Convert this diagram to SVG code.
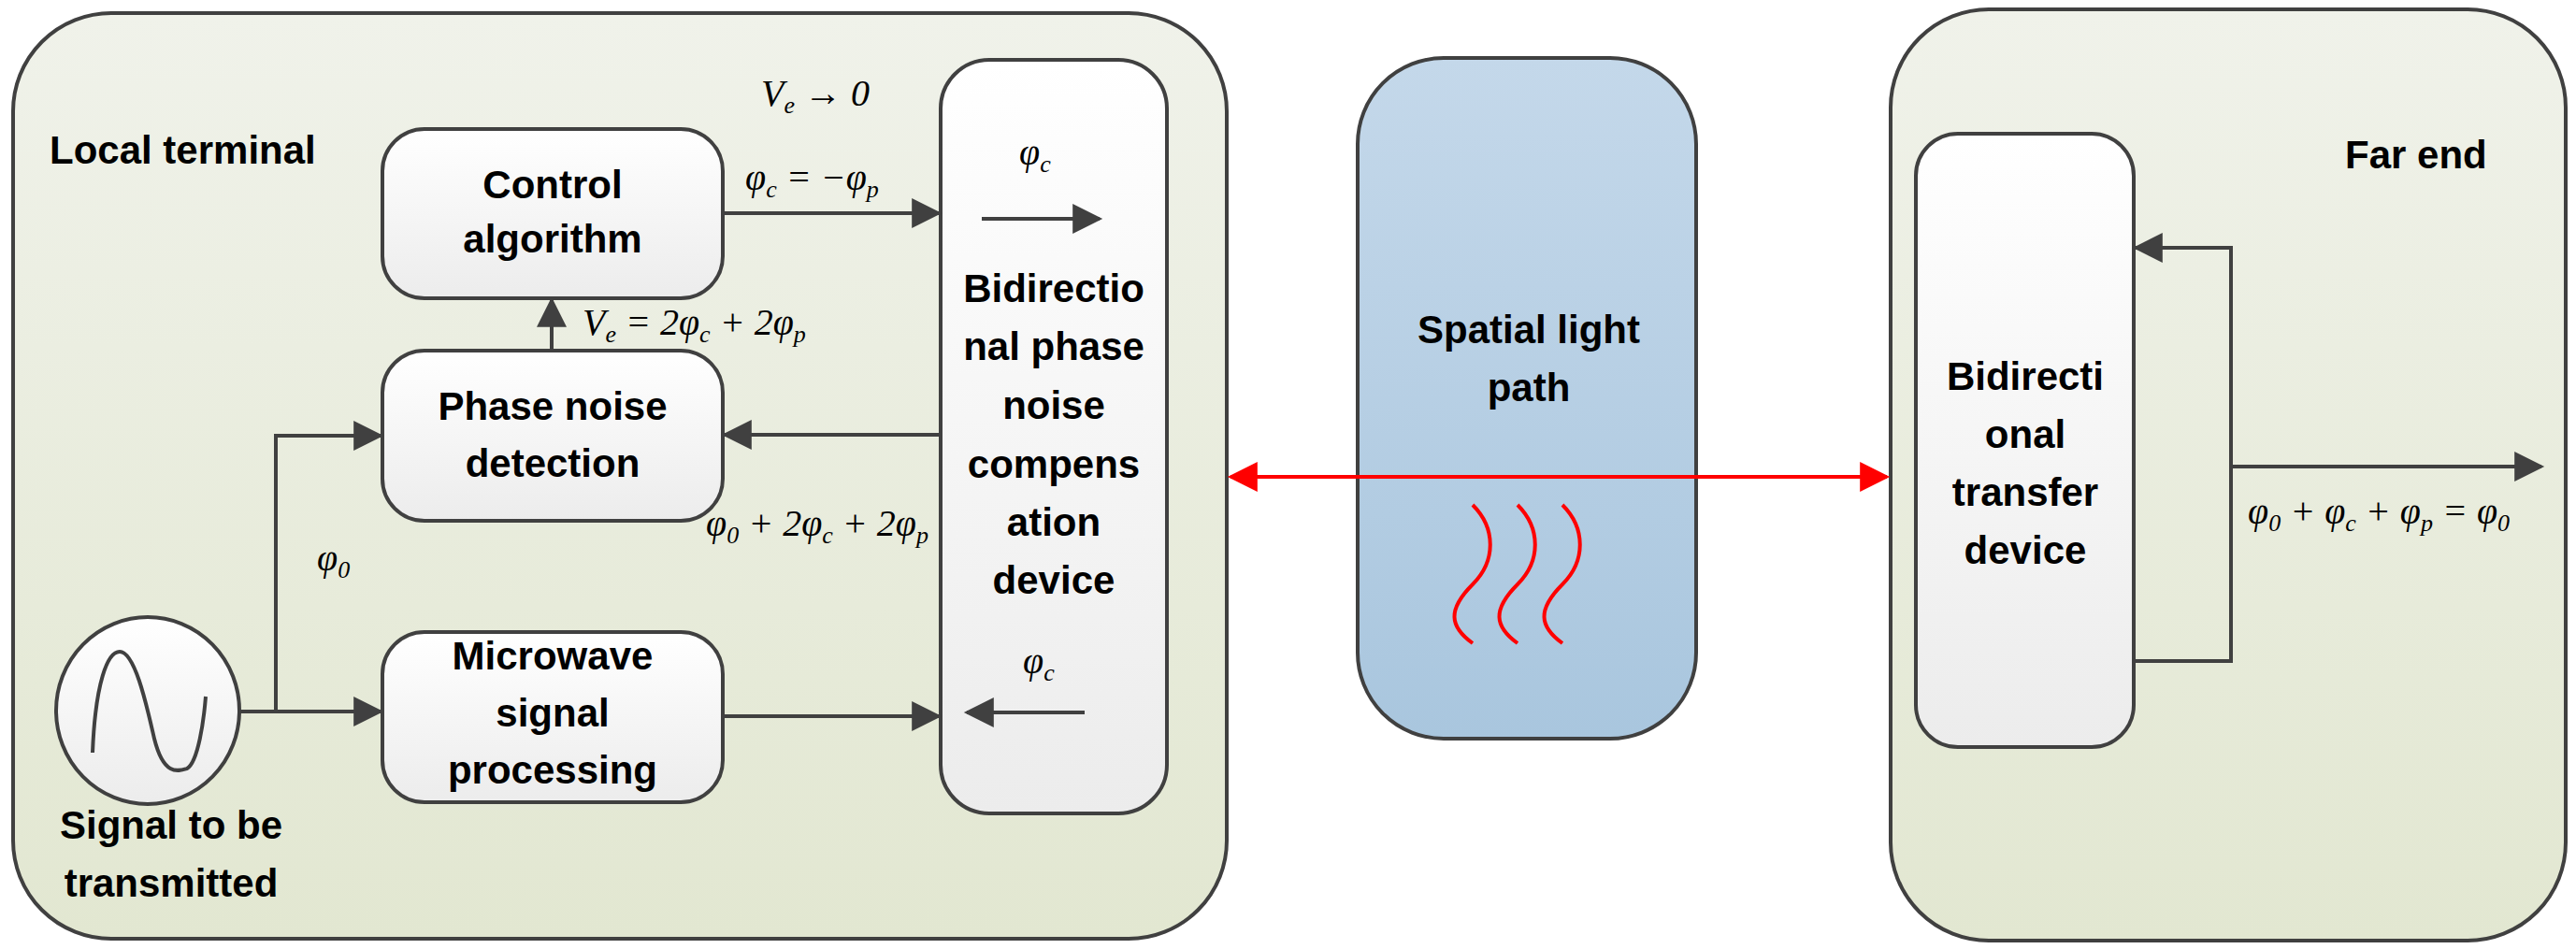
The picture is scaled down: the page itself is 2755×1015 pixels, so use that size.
<svg xmlns="http://www.w3.org/2000/svg" width="2755" height="1015" viewBox="0 0 2755 1015">
<defs>
<linearGradient id="gGreen" x1="0" y1="0" x2="0" y2="1"><stop offset="0" stop-color="#f0f2ea"/><stop offset="1" stop-color="#e2e7d1"/></linearGradient>
<linearGradient id="gBlue" x1="0" y1="0" x2="0" y2="1"><stop offset="0" stop-color="#c4d8ea"/><stop offset="1" stop-color="#a9c6de"/></linearGradient>
<linearGradient id="gWhite" x1="0" y1="0" x2="0" y2="1"><stop offset="0" stop-color="#ffffff"/><stop offset="1" stop-color="#ececec"/></linearGradient>
<marker id="ahb" viewBox="0 0 10 10" refX="9" refY="5" markerWidth="10" markerHeight="8" orient="auto"><path d="M0,0 L10,5 L0,10 z" fill="#404040"/></marker>
<marker id="ahr" viewBox="0 0 10 10" refX="9" refY="5" markerWidth="10" markerHeight="8" orient="auto-start-reverse"><path d="M0,0 L10,5 L0,10 z" fill="#ff0000"/></marker>
</defs>
<style>
.box{stroke:#404040;stroke-width:4}
.t{font-family:"Liberation Sans",Arial,sans-serif;font-weight:bold;font-size:42px;fill:#000;text-anchor:middle}
.m{font-family:"Liberation Serif","Times New Roman",serif;font-style:italic;font-size:40px;fill:#000}
.s{font-size:26px}
.c{fill:none;stroke:#404040;stroke-width:4}
</style>
<g id="local-terminal"><rect class="box" x="14" y="14" width="1298" height="990" rx="105" fill="url(#gGreen)"/><text class="t" x="53" y="175" style="text-anchor:start">Local terminal</text></g>
<g id="spatial-light-path"><rect class="box" x="1452" y="62" width="362" height="728" rx="92" fill="url(#gBlue)"/><text class="t" x="1635" y="367">Spatial light</text><text class="t" x="1635" y="429">path</text>
<g fill="none" stroke="#ff0000" stroke-width="4"><path d="M1575,540 C1600,565 1600,600 1575,625 C1548,652 1550,670 1575,688"/><path d="M1623,540 C1648,565 1648,600 1623,625 C1596,652 1598,670 1623,688"/><path d="M1671,540 C1696,565 1696,600 1671,625 C1644,652 1646,670 1671,688"/></g></g>
<g id="far-end"><rect class="box" x="2022" y="10" width="722" height="996" rx="105" fill="url(#gGreen)"/><text class="t" x="2508" y="180" style="text-anchor:start">Far end</text></g>
<g id="control-algorithm"><rect class="box" x="409" y="138" width="364" height="181" rx="45" fill="url(#gWhite)"/><text class="t" x="591" y="212">Control</text><text class="t" x="591" y="270">algorithm</text></g>
<g id="phase-noise-detection"><rect class="box" x="409" y="375" width="364" height="182" rx="45" fill="url(#gWhite)"/><text class="t" x="591" y="449">Phase noise</text><text class="t" x="591" y="510">detection</text></g>
<g id="microwave-signal-processing"><rect class="box" x="409" y="676" width="364" height="182" rx="45" fill="url(#gWhite)"/><text class="t" x="591" y="716">Microwave</text><text class="t" x="591" y="777">signal</text><text class="t" x="591" y="838">processing</text></g>
<g id="compensation-device"><rect class="box" x="1006" y="64" width="242" height="806" rx="52" fill="url(#gWhite)"/><text class="t" x="1127" y="323">Bidirectio</text><text class="t" x="1127" y="385">nal phase</text><text class="t" x="1127" y="448">noise</text><text class="t" x="1127" y="511">compens</text><text class="t" x="1127" y="573">ation</text><text class="t" x="1127" y="635">device</text>
<line class="c" x1="1050" y1="234" x2="1176" y2="234" marker-end="url(#ahb)"/><line class="c" x1="1160" y1="762" x2="1034" y2="762" marker-end="url(#ahb)"/>
<text class="m" x="1090" y="176">φ<tspan class="s" dy="8">c</tspan></text><text class="m" x="1094" y="720">φ<tspan class="s" dy="8">c</tspan></text></g>
<g id="signal-source"><ellipse class="box" cx="158" cy="760" rx="98" ry="100" fill="url(#gWhite)"/><path d="M99,805 C102,730 115,697 128,697 C145,697 158,760 165,790 C175,830 190,825 200,822 C212,815 218,770 220,745" fill="none" stroke="#404040" stroke-width="4"/><text class="t" x="183" y="897">Signal to be</text><text class="t" x="183" y="959">transmitted</text></g>
<g id="transfer-device"><rect class="box" x="2049" y="143" width="233" height="656" rx="45" fill="url(#gWhite)"/><text class="t" x="2166" y="417">Bidirecti</text><text class="t" x="2166" y="479">onal</text><text class="t" x="2166" y="541">transfer</text><text class="t" x="2166" y="603">device</text></g>
<g id="connectors">
<line class="c" x1="773" y1="228" x2="1004" y2="228" marker-end="url(#ahb)"/>
<line class="c" x1="1006" y1="465" x2="775" y2="465" marker-end="url(#ahb)"/>
<line class="c" x1="773" y1="766" x2="1004" y2="766" marker-end="url(#ahb)"/>
<line class="c" x1="256" y1="761" x2="407" y2="761" marker-end="url(#ahb)"/>
<polyline class="c" points="295,761 295,466 407,466" marker-end="url(#ahb)"/>
<line class="c" x1="590" y1="375" x2="590" y2="321" marker-end="url(#ahb)"/>
<line x1="1316" y1="510" x2="2018" y2="510" stroke="#ff0000" stroke-width="4" marker-start="url(#ahr)" marker-end="url(#ahr)"/>
<polyline class="c" points="2282,707 2386,707 2386,265 2284,265" marker-end="url(#ahb)"/>
<line class="c" x1="2386" y1="499" x2="2718" y2="499" marker-end="url(#ahb)"/>
</g>
<g id="labels">
<text class="m" x="814" y="113">V<tspan class="s" dy="8">e</tspan><tspan dy="-8"> → 0</tspan></text>
<text class="m" x="797" y="203">φ<tspan class="s" dy="8">c</tspan><tspan dy="-8"> = −φ</tspan><tspan class="s" dy="8">p</tspan></text>
<text class="m" x="623" y="358">V<tspan class="s" dy="8">e</tspan><tspan dy="-8"> = 2φ</tspan><tspan class="s" dy="8">c</tspan><tspan dy="-8"> + 2φ</tspan><tspan class="s" dy="8">p</tspan></text>
<text class="m" x="755" y="573">φ<tspan class="s" dy="8">0</tspan><tspan dy="-8"> + 2φ</tspan><tspan class="s" dy="8">c</tspan><tspan dy="-8"> + 2φ</tspan><tspan class="s" dy="8">p</tspan></text>
<text class="m" x="339" y="610">φ<tspan class="s" dy="8">0</tspan></text>
<text class="m" x="2404" y="560">φ<tspan class="s" dy="8">0</tspan><tspan dy="-8"> + φ</tspan><tspan class="s" dy="8">c</tspan><tspan dy="-8"> + φ</tspan><tspan class="s" dy="8">p</tspan><tspan dy="-8"> = φ</tspan><tspan class="s" dy="8">0</tspan></text>
</g>
</svg>
